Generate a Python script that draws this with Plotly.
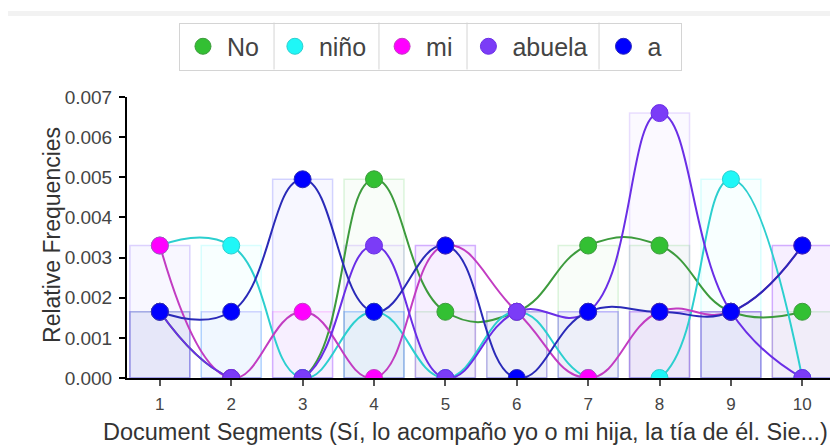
import plotly.graph_objects as go

segments = [1, 2, 3, 4, 5, 6, 7, 8, 9, 10]
tick_labels = ["1", "2", "3", "4", "5", "6", "7", "8", "9", "10"]

series_names = ["No", "niño", "mi", "abuela", "a"]
no_vals = [0.00165, 0, 0, 0.00495, 0.00165, 0.00165, 0.0033, 0.0033, 0.00165, 0.00165]
nino_vals = [0.0033, 0.0033, 0, 0.00165, 0, 0.00165, 0, 0, 0.00495, 0]
mi_vals = [0.0033, 0, 0.00165, 0, 0.0033, 0.00165, 0, 0.00165, 0.00165, 0.0033]
abuela_vals = [0.00165, 0, 0, 0.0033, 0, 0.00165, 0.00165, 0.0066, 0.00165, 0]
a_vals = [0.00165, 0.00165, 0.00495, 0.00165, 0.0033, 0, 0.00165, 0.00165, 0.00165, 0.0033]

marker_colors = ["#33c033", "#1ff7f7", "#ff00ff", "#7b3cf7", "#0000ff"]
line_colors = ["#3d9b3d", "#2ccfcf", "#c23cc2", "#6a2ee6", "#2a2ab8"]
rgb = [(51, 192, 51), (31, 247, 247), (255, 0, 255), (123, 60, 247), (0, 0, 255)]

x_title = "Document Segments (Sí, lo acompaño yo o mi hija, la tía de él. Sie...)"
y_title = "Relative Frequencies"

all_vals = [no_vals, nino_vals, mi_vals, abuela_vals, a_vals]
FONT = "Liberation Sans, Arial, sans-serif"
NBSP = "\u00a0"
legend_pad = [NBSP, NBSP, NBSP, NBSP, NBSP * 2]

fig = go.Figure()

# background bars
for name, vals, c in zip(series_names, all_vals, rgb):
    fig.add_trace(go.Bar(
        x=segments, y=vals, width=0.84, name=name, showlegend=False,
        marker=dict(color="rgba(%d,%d,%d,0.03)" % c,
                    line=dict(color="rgba(%d,%d,%d,0.16)" % c, width=1.5)),
        hoverinfo="skip"))

# smoothed lines
for name, vals, lc in zip(series_names, all_vals, line_colors):
    fig.add_trace(go.Scatter(
        x=segments, y=vals, mode="lines", name=name, showlegend=False,
        legendgroup=name,
        line=dict(color=lc, width=2, shape="spline", smoothing=1.3)))

# markers (also used as legend items)
for name, vals, mc, lc, pad in zip(series_names, all_vals, marker_colors, line_colors, legend_pad):
    fig.add_trace(go.Scatter(
        x=segments, y=vals, mode="markers", name=name + pad, legendgroup=name,
        marker=dict(color=mc, size=17, line=dict(color=lc, width=1))))

# top band and legend item separators
sep_x = [0.2068, 0.3544, 0.4782, 0.6639]
shapes = [dict(type="rect", xref="paper", yref="paper",
               x0=-0.170, x1=1.0, y0=1.288, y1=1.306,
               fillcolor="#f2f2f2", line=dict(width=0), layer="below")]
for sx in sep_x:
    shapes.append(dict(type="line", xref="paper", yref="paper",
                       x0=sx, x1=sx, y0=1.265, y1=1.098,
                       line=dict(color="#d4d4d4", width=1)))

fig.update_layout(
    width=838, height=446,
    margin=dict(l=119, r=8, t=89, b=76),
    paper_bgcolor="white", plot_bgcolor="white",
    barmode="overlay",
    font=dict(family=FONT, color="#444"),
    legend=dict(orientation="h", x=0.0731, xanchor="left", y=1.265, yanchor="top",
                bordercolor="#d4d4d4", borderwidth=1, itemwidth=38,
                bgcolor="rgba(255,255,255,0)",
                font=dict(size=25, color="#444", family=FONT),
                itemclick=False, itemdoubleclick=False),
    xaxis=dict(range=[0.54, 10.5], tickvals=segments, ticktext=tick_labels,
               ticks="outside", ticklen=6, tickcolor="#555", tickwidth=1.5,
               showline=True, linecolor="black", linewidth=2,
               showgrid=False, zeroline=False, ticklabelstandoff=4,
               tickfont=dict(size=17, color="#444", family=FONT)),
    yaxis=dict(range=[0, 0.007], dtick=0.001, tick0=0, tickformat=".3f",
               ticks="outside", ticklen=6, tickcolor="black", tickwidth=1.5,
               showline=True, linecolor="black", linewidth=2,
               showgrid=False, zeroline=False, ticklabelstandoff=3,
               tickfont=dict(size=19, color="#444", family=FONT)),
    shapes=shapes,
    annotations=[
        dict(text=x_title, xref="paper", yref="paper",
             x=0.476, y=0, yshift=-54, xanchor="center", yanchor="middle",
             showarrow=False, font=dict(size=23.5, color="#333", family=FONT)),
        dict(text=y_title, xref="paper", yref="paper", textangle=-90,
             x=-0.1055, y=0.509, xanchor="center", yanchor="middle",
             showarrow=False, font=dict(size=23, color="#333", family=FONT)),
    ],
)

fig.write_html("out.html")
